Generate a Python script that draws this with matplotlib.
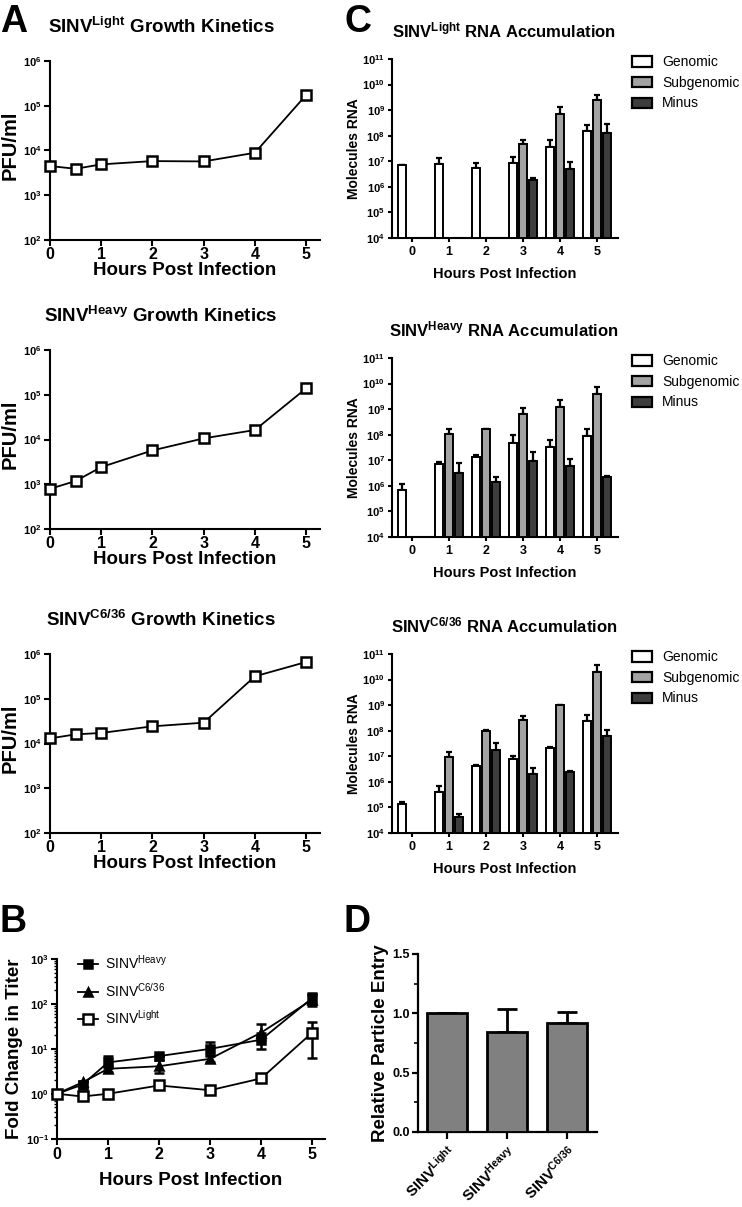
import numpy as np
import matplotlib
matplotlib.use('Agg')
import matplotlib.pyplot as plt
from matplotlib.patches import Patch
from matplotlib.lines import Line2D
from matplotlib.ticker import FixedLocator, NullLocator, MultipleLocator

plt.rcParams['font.family'] = ['Liberation Sans', 'DejaVu Sans']
plt.rcParams['mathtext.fontset'] = 'custom'
plt.rcParams['mathtext.rm'] = 'Liberation Sans'
plt.rcParams['mathtext.bf'] = 'Liberation Sans:bold'
plt.rcParams['mathtext.it'] = 'Liberation Sans:italic'
plt.rcParams['mathtext.sf'] = 'Liberation Sans'

# ---------------- data ----------------
hours_growth = [0, 0.5, 1, 2, 3, 4, 5]
pfu_light = [4500, 3900, 4900, 5800, 5700, 8900, 174000]
pfu_heavy = [790, 1180, 2420, 5700, 10600, 16300, 139000]
pfu_c636 = [13000, 16000, 17200, 24200, 29200, 317000, 663000]

fold_heavy = [1.0, 1.6, 5.0, 6.9, 10.0, 16.0, 135]
fold_heavy_lo = [1.0, 1.35, 3.7, 6.9, 7.2, 10.0, 90]
fold_heavy_hi = [1.0, 1.9, 7.0, 6.9, 14.3, 22.0, 178]
fold_c636 = [1.0, 1.8, 3.6, 4.1, 6.0, 23.0, 125]
fold_c636_lo = [1.0, 1.8, 3.1, 2.9, 5.0, 16.0, 100]
fold_c636_hi = [1.0, 1.8, 4.2, 5.7, 7.0, 36.0, 160]
fold_light = [1.0, 0.87, 1.0, 1.53, 1.2, 2.2, 23]
fold_light_lo = [1.0, 0.87, 1.0, 1.53, 1.2, 2.2, 6.3]
fold_light_hi = [1.0, 0.87, 1.0, 1.53, 1.2, 2.2, 40]

rna_hours = [0, 1, 2, 3, 4, 5]
nan = np.nan
light_genomic = [7.0e6, 7.7e6, 5.3e6, 8.7e6, 3.7e7, 1.5e8]
light_genomic_up = [7.3e6, 1.3e7, 8.9e6, 1.5e7, 7.1e7, 2.6e8]
light_subgenomic = [nan, nan, nan, 4.6e7, 7.2e8, 2.5e9]
light_subgenomic_up = [nan, nan, nan, 7.1e7, 1.35e9, 3.9e9]
light_minus = [nan, nan, nan, 1.8e6, 4.8e6, 1.3e8]
light_minus_up = [nan, nan, nan, 2.2e6, 9.5e6, 3.0e8]

heavy_genomic = [7.0e5, 6.9e6, 1.4e7, 4.7e7, 3.3e7, 8.7e7]
heavy_genomic_up = [1.23e6, 8.5e6, 1.66e7, 9.5e7, 6.0e7, 1.6e8]
heavy_subgenomic = [nan, 1.1e8, 1.6e8, 6.6e8, 1.2e9, 4.0e9]
heavy_subgenomic_up = [nan, 1.74e8, 1.7e8, 1.15e9, 2.2e9, 7.4e9]
heavy_minus = [nan, 3.2e6, 1.4e6, 9.1e6, 6.0e6, 2.3e6]
heavy_minus_up = [nan, 7.8e6, 2.3e6, 2.1e7, 1.15e7, 2.4e6]

c636_genomic = [1.4e5, 4.0e5, 4.3e6, 7.8e6, 2.2e7, 2.5e8]
c636_genomic_up = [1.6e5, 6.6e5, 4.4e6, 1.05e7, 2.3e7, 4.3e8]
c636_subgenomic = [nan, 9.1e6, 1.0e8, 2.7e8, 1.0e9, 2.0e10]
c636_subgenomic_up = [nan, 1.5e7, 1.05e8, 3.9e8, 1.05e9, 3.6e10]
c636_minus = [nan, 4.1e4, 1.8e7, 2.0e6, 2.4e6, 6.3e7]
c636_minus_up = [nan, 5.4e4, 3.3e7, 3.5e6, 2.6e6, 1.1e8]

rna_series = ['Genomic', 'Subgenomic', 'Minus']
rna_colors = ['white', '#a3a3a3', '#3d3d3d']

entry_labels = [r'SINV$^{\mathbf{Light}}$', r'SINV$^{\mathbf{Heavy}}$', r'SINV$^{\mathbf{C6/36}}$']
entry_values = [1.0, 0.84, 0.92]
entry_err = [0.0, 0.20, 0.09]

# ---------------- layout helpers ----------------
W, H = 742, 1207
fig = plt.figure(figsize=(W / 100, H / 100), dpi=100)


def ax_px(x0, y0, x1, y1):
    return fig.add_axes([x0 / W, 1 - y1 / H, (x1 - x0) / W, (y1 - y0) / H])


def style(ax, lw=1.5):
    for s in ['top', 'right']:
        ax.spines[s].set_visible(False)
    for s in ['left', 'bottom']:
        ax.spines[s].set_linewidth(lw)
    ax.tick_params(width=lw, length=4, direction='out')


def fx(x):
    return x / W


def fy(y):
    return 1 - y / H


def pow_labels(exps):
    return [r'$\mathbf{10^{%d}}$' % e for e in exps]


# ---------------- panel A ----------------
growth_sets = [(pfu_light, r'SINV$^{\mathbf{Light}}$ Growth Kinetics', 61, 240),
               (pfu_heavy, r'SINV$^{\mathbf{Heavy}}$ Growth Kinetics', 350, 529),
               (pfu_c636, r'SINV$^{\mathbf{C6/36}}$ Growth Kinetics', 654, 833)]
for vals, title, y0, y1 in growth_sets:
    ax = ax_px(50, y0, 320, y1)
    style(ax)
    ax.plot(hours_growth, vals, '-s', color='black', mfc='white', mec='black',
            ms=7.5, mew=1.8, lw=1.3, clip_on=False, zorder=3)
    ax.set_yscale('log')
    ax.set_ylim(1e2, 1e6)
    ax.set_xlim(0, 5.27)
    exps = [2, 3, 4, 5, 6]
    ax.yaxis.set_major_locator(FixedLocator([10.0 ** e for e in exps]))
    ax.yaxis.set_minor_locator(NullLocator())
    ax.set_yticklabels(pow_labels(exps), fontsize=8)
    ax.set_xticks(range(6))
    ax.set_xticklabels([str(i) for i in range(6)], fontsize=11.5, fontweight='bold')
    ax.tick_params(axis='x', pad=1)
    ax.tick_params(axis='y', pad=2)
    ax.set_xlabel('Hours Post Infection', fontsize=13.5, fontweight='bold', va='baseline')
    ax.xaxis.set_label_coords(0.5, -35 / 179)
    ax.set_ylabel('PFU/ml', fontsize=14.5, fontweight='bold', va='center')
    ax.yaxis.set_label_coords(-0.148, 0.53)
    fig.text(fx(161), fy(y0 - 28), title, fontsize=13.5, fontweight='bold',
             ha='center', va='baseline')

# ---------------- panel B ----------------
axb = ax_px(57, 959, 325, 1138.7)
style(axb)
b_sets = [(fold_heavy, fold_heavy_lo, fold_heavy_hi, 's', 'black', 6, r'SINV$^{\mathrm{Heavy}}$'),
          (fold_c636, fold_c636_lo, fold_c636_hi, '^', 'black', 6, r'SINV$^{\mathrm{C6/36}}$'),
          (fold_light, fold_light_lo, fold_light_hi, 's', 'white', 7.5, r'SINV$^{\mathrm{Light}}$')]
handles = []
for vals, lo, hi, mk, mfc, ms, lab in b_sets:
    v = np.array(vals)
    yerr = [v - np.array(lo), np.array(hi) - v]
    axb.errorbar(hours_growth, v, yerr=yerr, fmt='-' + mk, color='black', mfc=mfc,
                 mec='black', ms=ms, mew=1.8, lw=1.3, elinewidth=1.8, capsize=3.5,
                 capthick=1.8, clip_on=False, zorder=3)
    handles.append(Line2D([], [], color='black', marker=mk, mfc=mfc, mec='black',
                          ms=ms, mew=1.8, lw=1.3, label=lab))
axb.set_yscale('log')
axb.set_ylim(1e-1, 1e3)
axb.set_xlim(0, 5.25)
bexps = [-1, 0, 1, 2, 3]
axb.yaxis.set_major_locator(FixedLocator([10.0 ** e for e in bexps]))
minor = [m * 10.0 ** e for e in range(-1, 3) for m in range(2, 10)]
axb.yaxis.set_minor_locator(FixedLocator(minor))
axb.yaxis.set_minor_formatter(plt.NullFormatter())
axb.tick_params(axis='y', which='minor', length=2.5, width=1.0)
axb.set_yticklabels(pow_labels(bexps), fontsize=8)
axb.set_xticks(range(6))
axb.set_xticklabels([str(i) for i in range(6)], fontsize=11.5, fontweight='bold')
axb.tick_params(axis='x', pad=2)
axb.tick_params(axis='y', pad=2)
axb.set_xlabel('Hours Post Infection', fontsize=13.5, fontweight='bold', va='baseline')
axb.xaxis.set_label_coords(0.5, (1138.7 - 1185) / 179.7)
axb.set_ylabel('Fold Change in Titer', fontsize=13.5, fontweight='bold', va='center')
axb.yaxis.set_label_coords(-0.159, 0.5)
axb.legend(handles=handles, loc='upper left', bbox_to_anchor=(0.078, 1.03), frameon=False,
           fontsize=10, handlelength=1.45, handletextpad=0.5, labelspacing=0.68,
           borderpad=0, borderaxespad=0)

# ---------------- panel C ----------------
rna_sets = [((light_genomic, light_subgenomic, light_minus),
             (light_genomic_up, light_subgenomic_up, light_minus_up),
             r'SINV$^{\mathbf{Light}}$ RNA Accumulation', 59, 238),
            ((heavy_genomic, heavy_subgenomic, heavy_minus),
             (heavy_genomic_up, heavy_subgenomic_up, heavy_minus_up),
             r'SINV$^{\mathbf{Heavy}}$ RNA Accumulation', 358, 537),
            ((c636_genomic, c636_subgenomic, c636_minus),
             (c636_genomic_up, c636_subgenomic_up, c636_minus_up),
             r'SINV$^{\mathbf{C6/36}}$ RNA Accumulation', 654, 833)]
offsets = [-0.27, 0.0, 0.27]
base = 1e4
for series, ups, title, y0, y1 in rna_sets:
    ax = ax_px(392, y0, 618, y1)
    style(ax)
    ax.set_yscale('log')
    x = np.array(rna_hours, dtype=float)
    for k, (vals, up) in enumerate(zip(series, ups)):
        v = np.array(vals, dtype=float)
        u = np.array(up, dtype=float)
        ok = ~np.isnan(v)
        xs = x[ok] + offsets[k]
        ax.errorbar(xs, v[ok], yerr=[np.zeros(ok.sum()), u[ok] - v[ok]], fmt='none',
                    ecolor='black', elinewidth=1.6, capsize=2.5, capthick=1.6, zorder=2)
        ax.bar(xs, v[ok] - base, bottom=base, width=0.22, color=rna_colors[k],
               edgecolor='black', linewidth=1.4, zorder=3)
    ax.set_ylim(1e4, 1e11)
    ax.set_xlim(-0.54, 5.57)
    cexps = list(range(4, 12))
    ax.yaxis.set_major_locator(FixedLocator([10.0 ** e for e in cexps]))
    ax.yaxis.set_minor_locator(NullLocator())
    ax.set_yticklabels(pow_labels(cexps), fontsize=8)
    ax.set_xticks(rna_hours)
    ax.set_xticklabels([str(h) for h in rna_hours], fontsize=9, fontweight='bold')
    ax.tick_params(axis='x', length=3, pad=3)
    ax.tick_params(axis='y', length=3, pad=2)
    ax.set_xlabel('Hours Post Infection', fontsize=10.5, fontweight='bold', va='baseline')
    ax.xaxis.set_label_coords(0.5, -40 / 179)
    ax.set_ylabel('Molecules RNA', fontsize=10, fontweight='bold', va='center')
    ax.yaxis.set_label_coords(-0.168, 0.5)
    fig.text(fx(504), fy(y0 - 22), title, fontsize=12, fontweight='bold',
             ha='center', va='baseline')
    leg_handles = [Patch(facecolor=c, edgecolor='black', linewidth=1.6, label=l)
                   for c, l in zip(rna_colors, rna_series)]
    ax.legend(handles=leg_handles, loc='upper left', bbox_to_anchor=(1.062, 1.02),
              frameon=False, fontsize=10, handlelength=1.45, handleheight=0.75,
              handletextpad=0.7, labelspacing=0.47, borderpad=0, borderaxespad=0)

# ---------------- panel D ----------------
axd = ax_px(418, 954, 597, 1132)
style(axd, lw=1.6)
xd = np.arange(len(entry_values))
axd.errorbar(xd, entry_values, yerr=[np.zeros(len(entry_err)), entry_err], fmt='none',
             ecolor='black', elinewidth=2.0, capsize=7, capthick=2.0, zorder=2)
axd.bar(xd, entry_values, width=0.67, color='#808080', edgecolor='black',
        linewidth=2.0, zorder=3)
axd.set_xlim(-0.48, 2.5)
axd.set_ylim(0, 1.5)
axd.yaxis.set_major_locator(MultipleLocator(0.5))
axd.yaxis.set_minor_locator(MultipleLocator(0.25))
axd.tick_params(axis='y', which='minor', length=3, width=1.2)
axd.set_yticks([0, 0.5, 1.0, 1.5])
axd.set_yticklabels(['0.0', '0.5', '1.0', '1.5'], fontsize=9, fontweight='bold')
axd.set_xticks(xd)
axd.set_xticklabels(entry_labels, fontsize=11, fontweight='bold', rotation=45,
                    ha='right', rotation_mode='anchor')
axd.tick_params(axis='x', length=5, pad=3)
axd.tick_params(axis='y', pad=2)
axd.set_ylabel('Relative Particle Entry', fontsize=13.5, fontweight='bold', va='center')
axd.yaxis.set_label_coords(-0.212, 0.5)

# ---------------- panel letters ----------------
for letter, x, y in [('A', 0, 32), ('C', 344, 32), ('B', 0, 932), ('D', 344, 932)]:
    fig.text(fx(x), fy(y), letter, fontsize=27, fontweight='bold', ha='left', va='baseline')

fig.savefig('out.png', dpi=100, facecolor='white')
